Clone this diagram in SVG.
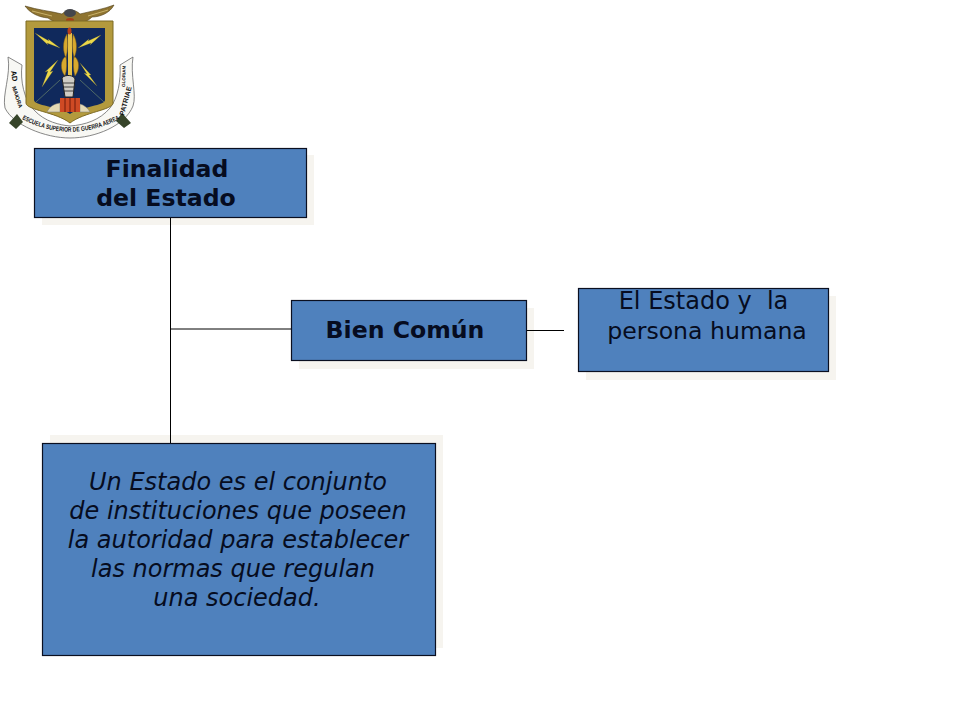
<svg xmlns="http://www.w3.org/2000/svg" width="960" height="720" viewBox="0 0 960 720">
<style>
.sh{fill:#f6f4ef}
.bx{fill:#4f81bd;stroke:#0a0f20;stroke-width:1.2}
.t{font-family:"DejaVu Sans",Verdana,sans-serif;font-size:23.6px;fill:#060c20;text-anchor:middle;white-space:pre}
.b{font-weight:bold}
.i{font-style:italic;font-size:24px}
.c{stroke:#000;stroke-width:1;fill:none}
.cr{font-family:"Liberation Sans",Arial,sans-serif;font-weight:bold;fill:#111}
.lf{fill:#d8a92e;stroke:#7b5a14;stroke-width:.5}
.bolt{fill:#ecd84a;stroke:#8a7a20;stroke-width:.2}
</style>
<rect width="960" height="720" fill="#fff"/>
<g id="crest">
<path d="M8 57 22 65C20 80 24 100 34 110 45 122 60 125 70 126 85 125 100 120 110 108 118 98 121 80 120 65L133 57C130 75 137 95 133 106 125 126 95 138 70 138 45 138 13 125 5 108 2 95 11 75 8 57Z" fill="#f8f8f4" stroke="#6a6a6a" stroke-width=".8"/>
<path d="M9 123 17 114 23 122 16 129ZM131 123 122 113 116 121 124 128Z" fill="#37452a"/>
<path d="M25 6C38 10 50 11 62 14 67 9 75 9 80 14 92 11 104 9 114 5 110 13 100 17 92 17 88 21 82 24 70 24 58 24 52 21 48 18 38 17 30 13 25 6Z" fill="#8f7430" stroke="#4c3a12" stroke-width=".6"/>
<path d="M32 11 52 16M108 10 88 16" stroke="#c9b26a" stroke-width="1"/>
<ellipse cx="70" cy="13" rx="6" ry="4" fill="#44464c"/>
<ellipse cx="70" cy="20" rx="4" ry="2" fill="#a83c18"/>
<path d="M26 21H113V103C113 110 84 112 70 123 56 112 26 110 26 103Z" fill="#b39a3d" stroke="#7d6a24"/>
<path d="M34 28H105V100C105 106 82 106 70 114 58 106 34 106 34 100Z" fill="#10295c"/>
<path d="M36 102 60 80M104 102 80 80" stroke="#5f7a6a" stroke-width=".8"/>
<path d="M68 33H72V76H68Z" fill="#e6c24a"/>
<path class="lf" d="M67 34C62 42 63 52 66 58 68 50 68 42 67 34ZM73 34C78 42 77 52 74 58 72 50 72 42 73 34ZM66 56C60 60 60 70 65 76 67 70 67 62 66 56ZM74 56C80 60 80 70 75 76 73 70 73 62 74 56Z"/>
<ellipse cx="69.500" cy="31" rx="2" ry="3.500" fill="#b8401c"/>
<path class="bolt" d="M35 33 49 41 48 39 60 48 47 43 48 45ZM101 35 88 41 89 39 78 48 91 43 90 45ZM58 60 50 72 53 71 42 87 48 71 45 72ZM80 63 87 74 84 73 97 86 89 75 91 75Z"/>
<path d="M62 78C65 74 74 75 75 79L73 97H65Z" fill="#cfccc4" stroke="#222" stroke-width="1"/>
<path d="M63 83H75M63 87H74M64 91H73" stroke="#222" stroke-width=".8"/>
<path d="M47 112C50 106 54 104 60 103V112ZM80 104C84 105 88 108 90 112H80Z" fill="#e4d9b4" stroke="#777" stroke-width=".5"/>
<rect x="60" y="98" width="20" height="14" fill="#cf4a24"/>
<path d="M65 98V112M70 98V112M75 98V112" stroke="#6e1a0a"/>
<text class="cr" style="font-size:7.500px" transform="translate(11 71) rotate(82)">AD</text>
<text class="cr" style="font-size:5.500px" transform="translate(12 87) rotate(72)">MAIORA</text>
<path id="arc" d="M22 119Q70 145 122 118" fill="none"/>
<text class="cr" style="font-size:6.500px"><textPath href="#arc" textLength="102" lengthAdjust="spacingAndGlyphs">ESCUELA SUPERIOR DE GUERRA AEREA</textPath></text>
<text class="cr" style="font-size:7px" transform="translate(124 116) rotate(-75)">PATRIAE</text>
<text class="cr" style="font-size:4.500px" transform="translate(125 87) rotate(-88)">GLORIAM</text>
</g>
<g id="node-finalidad">
<rect class="sh" x="42" y="155" width="272" height="70"/>
<rect class="bx" x="34.500" y="148.500" width="272" height="69"/>
<text class="t b" x="167" y="177">Finalidad</text>
<text class="t b" x="166" y="206">del Estado</text>
</g>
<g id="node-bien">
<rect class="sh" x="299" y="308" width="235" height="61"/>
<rect class="bx" x="291.500" y="300.500" width="235" height="60"/>
<text class="t b" x="405" y="338">Bien Común</text>
</g>
<g id="node-persona">
<rect class="sh" x="586" y="296" width="250" height="84"/>
<rect class="bx" x="578.500" y="288.500" width="250" height="83"/>
<text class="t" x="703.500" y="309" style="font-size:24px">El Estado y  la</text>
<text class="t" x="707" y="339">persona humana</text>
</g>
<g id="node-estado">
<rect class="sh" x="50" y="435" width="393" height="213"/>
<rect class="bx" x="42.500" y="443.500" width="393" height="212"/>
<text class="t i" x="238" y="490">Un Estado es el conjunto</text>
<text class="t i" x="238" y="519">de instituciones que poseen</text>
<text class="t i" x="238" y="548">la autoridad para establecer</text>
<text class="t i" x="233" y="577">las normas que regulan</text>
<text class="t i" x="237" y="606">una sociedad.</text>
</g>
<g id="connectors">
<path class="c" d="M170.500 218V443M171 329H291M527 330.500H564"/>
</g>
</svg>
